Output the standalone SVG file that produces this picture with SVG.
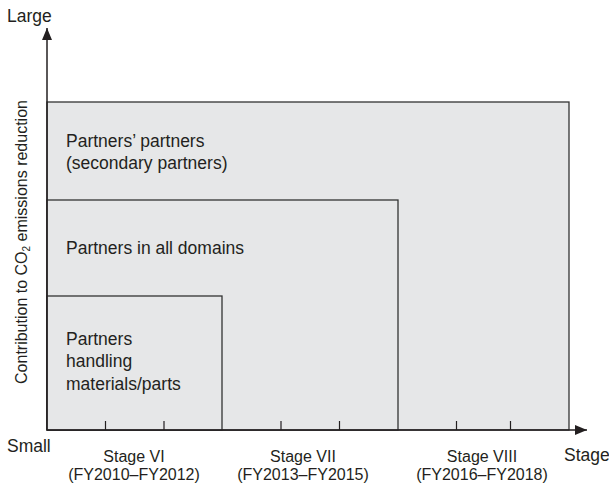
<svg xmlns="http://www.w3.org/2000/svg" width="609" height="489" viewBox="0 0 609 489">
<defs>
<style>
.box{fill:#e6e7e8;stroke:#333;stroke-width:1.3}
.ax{stroke:#231f20;stroke-width:1.5;fill:none}
.tick{stroke:#231f20;stroke-width:1.2}
text{font-family:"Liberation Sans","DejaVu Sans",sans-serif;font-size:16px;fill:#231f20}
.l{font-size:17.5px}
.c{text-anchor:middle}
</style>
<marker id="arr" viewBox="0 0 12 10" refX="12" refY="5" markerWidth="12" markerHeight="10" markerUnits="userSpaceOnUse" orient="auto">
<path d="M0,0 L12,5 L0,10 Z" fill="#231f20"/>
</marker>
</defs>
<rect width="609" height="489" fill="#fff"/>
<g id="node-secondary">
<rect class="box" x="47" y="102" width="522" height="328"/>
<text class="l" x="66" y="147">Partners’ partners</text>
<text class="l" x="66" y="169">(secondary partners)</text>
</g>
<g id="node-all-domains">
<rect class="box" x="47" y="200" width="351" height="230"/>
<text class="l" x="66" y="254">Partners in all domains</text>
</g>
<g id="node-materials">
<rect class="box" x="47" y="296" width="175" height="134"/>
<text class="l" x="66" y="345">Partners</text>
<text class="l" x="66" y="367">handling</text>
<text class="l" x="66" y="390">materials/parts</text>
</g>
<g id="connectors">
<line class="ax" x1="47" y1="430" x2="47" y2="28" marker-end="url(#arr)"/>
<line class="ax" x1="47" y1="430" x2="587" y2="430" marker-end="url(#arr)"/>
<g class="tick">
<line x1="105.5" y1="421" x2="105.5" y2="430"/>
<line x1="164" y1="421" x2="164" y2="430"/>
<line x1="281" y1="421" x2="281" y2="430"/>
<line x1="339.5" y1="421" x2="339.5" y2="430"/>
<line x1="456.5" y1="421" x2="456.5" y2="430"/>
<line x1="510.5" y1="421" x2="510.5" y2="430"/>
</g>
</g>
<g id="labels">
<text class="l" x="7" y="22">Large</text>
<text class="l" x="7" y="452">Small</text>
<text class="l" x="564" y="461">Stage</text>
<text class="c" x="134" y="462">Stage VI</text>
<text class="c" x="134" y="480">(FY2010–FY2012)</text>
<text class="c" x="303" y="462">Stage VII</text>
<text class="c" x="303" y="480">(FY2013–FY2015)</text>
<text class="c" x="482" y="462">Stage VIII</text>
<text class="c" x="482" y="480">(FY2016–FY2018)</text>
<text class="c" transform="translate(27,242) rotate(-90)">Contribution to CO<tspan font-size="10" dy="3">2</tspan><tspan dy="-3"> emissions reduction</tspan></text>
</g>
</svg>
